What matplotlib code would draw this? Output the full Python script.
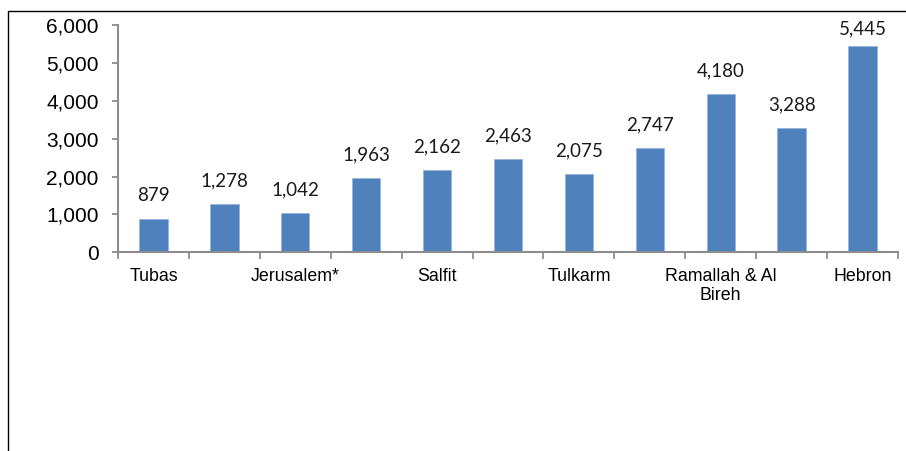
import matplotlib
matplotlib.use("Agg")
import matplotlib.pyplot as plt
from matplotlib.lines import Line2D
from matplotlib.ticker import FuncFormatter, FixedLocator

# Governorate values (only every other category name is printed on the axis)
categories = ["Tubas", "", "Jerusalem*", "", "Salfit", "", "Tulkarm", "",
              "Ramallah & Al\nBireh", "", "Hebron"]
values = [879, 1278, 1042, 1963, 2162, 2463, 2075, 2747, 4180, 3288, 5445]
y_ticks = [0, 1000, 2000, 3000, 4000, 5000, 6000]

W, H = 906, 451
ax_left, ax_right, ax_top, ax_bottom = 118, 898, 25, 252.3
fig = plt.figure(figsize=(W / 100, H / 100), dpi=100)
ax = fig.add_axes([ax_left / W, 1 - ax_bottom / H,
                   (ax_right - ax_left) / W, (ax_bottom - ax_top) / H])

bar_color = "#4F81BD"
x = list(range(len(values)))
ax.bar(x, values, width=0.4, color=bar_color, edgecolor="#8EB0DA", linewidth=0.4)

y_max = y_ticks[-1]
px_per_unit = (ax_bottom - ax_top) / y_max
label_gap = 17.6 / px_per_unit          # gap above the bar top, in data units
label_cap = y_max - 9.3 / px_per_unit   # keep labels inside the plot area
for xi, v in zip(x, values):
    ax.text(xi, min(v + label_gap, label_cap), f"{v:,}", ha="center", va="baseline",
            fontsize=13.5, family="Lato", color="#1a1a1a")

ax.set_xlim(-0.5, len(values) - 0.5)
ax.set_ylim(0, y_max)
ax.yaxis.set_major_locator(FixedLocator(y_ticks))
ax.yaxis.set_major_formatter(FuncFormatter(lambda v, p: f"{int(v):,}"))

ax.set_xticks(x)
ax.set_xticklabels(categories, family="Liberation Sans", fontsize=12.8, linespacing=1.15)
ax.set_xticks([i - 0.5 for i in range(len(values) + 1)], minor=True)
ax.tick_params(axis="x", which="major", length=0, pad=11)
ax.tick_params(axis="x", which="minor", length=5, width=1.3, color="#8C8C8C", direction="out")
ax.tick_params(axis="y", length=4, width=1.3, color="#8C8C8C", pad=10, labelsize=15)
for lab in ax.get_yticklabels():
    lab.set_family("Liberation Sans")

for side in ("top", "right"):
    ax.spines[side].set_visible(False)
for side in ("left", "bottom"):
    ax.spines[side].set_color("#8C8C8C")
    ax.spines[side].set_linewidth(1.5)

# Outer frame: left and top edges of the chart box
fx = 7.5 / W
fy = 1 - 10.5 / H
fig.add_artist(Line2D([fx, fx, 1.0], [0.0, fy, fy], transform=fig.transFigure,
                      color="black", linewidth=1.0))

fig.savefig("out.png", dpi=100)
